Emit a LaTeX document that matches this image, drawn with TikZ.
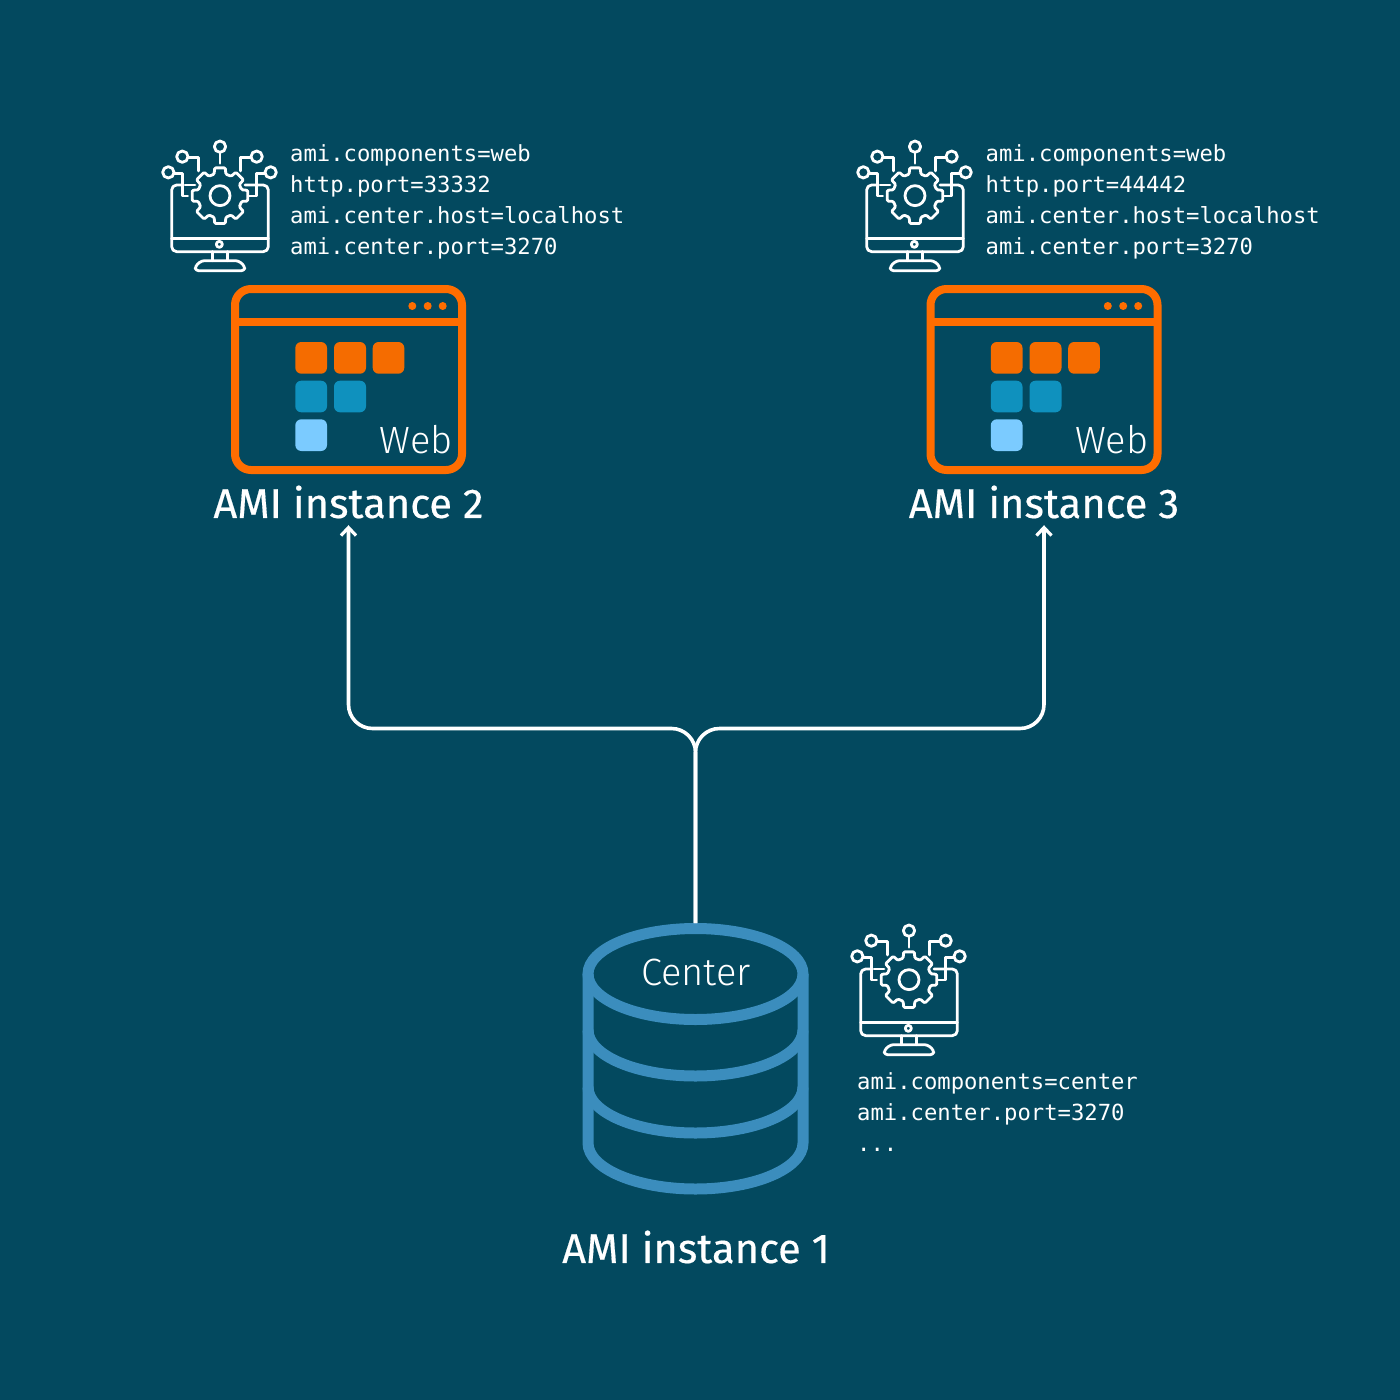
\documentclass[tikz,border=0pt]{standalone}
\usepackage{fontspec}
\usetikzlibrary{arrows.meta}
\setmainfont[FakeBold=0.4]{Fira Sans}
\newfontfamily\lightfont{Fira Sans Light}
\setmonofont{DejaVu Sans Mono}
\definecolor{bgc}{HTML}{03495F}
\definecolor{frameorange}{HTML}{FF6D00}
\definecolor{sqorange}{HTML}{F56C00}
\definecolor{sqblue}{HTML}{0F91BE}
\definecolor{sqlight}{HTML}{7BCBFF}
\definecolor{dbblue}{HTML}{3B8DBD}
\tikzset{
  iconline/.style={draw=white,line width=2.8pt,line cap=round,line join=round},
  winframe/.style={draw=frameorange,line width=8pt},
  sq/.style={rounded corners=6pt},
  dbline/.style={draw=dbblue,line width=11pt},
  conn/.style={draw=white,line width=3.6pt,rounded corners=24pt},
  cfg/.style={inner sep=0pt,anchor=north west,align=left,text=white,font=\fontsize{22.2}{31}\selectfont\ttfamily},
  biglabel/.style={inner sep=0pt,text=white,minimum height=46pt,font=\fontsize{41.6}{44}\selectfont},
  thinlabel/.style={inner sep=0pt,text=white,font=\fontsize{38}{40}\lightfont}
}
\newcommand{\amiicon}[2]{%
\begin{scope}[shift={(#1,#2)},x=0.3333pt,y=-0.3333pt]
  \draw[iconline,rounded corners=5pt] (92,165) -- (65,165) -- (65,365) -- (355,365) -- (355,165) -- (285,165);
  \draw[iconline] (105,165) -- (135,165);
  \draw[iconline] (65,325) -- (355,325);
  \draw[iconline] (208,343) circle[radius=9];
  \draw[iconline] (188,365) -- (188,392);
  \draw[iconline] (232,365) -- (232,392);
  \draw[iconline,rounded corners=3pt] (136,422) -- (136,408) -- (155,392) -- (265,392) -- (284,408) -- (284,422) -- cycle;
  % circuit traces
  \draw[iconline] (210,50) circle[radius=17];
  \draw[iconline] (210,67) -- (210,100);
  \draw[iconline] (97,80) circle[radius=17];
  \draw[iconline] (114,82) -- (145,82) -- (145,123);
  \draw[iconline] (320,80) circle[radius=17];
  \draw[iconline] (303,82) -- (272,82) -- (272,123);
  \draw[iconline] (55,127) circle[radius=17];
  \draw[iconline] (72,131) -- (97,131) -- (97,198) -- (113,198);
  \draw[iconline] (362,127) circle[radius=17];
  \draw[iconline] (345,131) -- (320,131) -- (320,198) -- (297,198);
  % gear
  \begin{scope}[shift={(210,197)}]
    \draw[iconline,rounded corners=1.2pt] (-15:67)
      \foreach \a in {0,45,...,315}{
        -- (\a-11:85) -- (\a+11:85) -- (\a+15:67) -- (\a+30:67)
      } -- cycle;
    \draw[iconline] (0,0) circle[radius=30];
  \end{scope}
\end{scope}}
\newcommand{\webwin}[1]{%
\begin{scope}[shift={(#1,0)}]
  \draw[winframe,rounded corners=16pt] (235,289) rectangle (462,470);
  \draw[winframe] (235,322) -- (462,322);
  \fill[frameorange] (412.3,306) circle[radius=4] (427.7,306) circle[radius=4] (442.7,306) circle[radius=4];
  \fill[sqorange,sq] (295.3,342) rectangle (327,373.7);
  \fill[sqorange,sq] (334,342) rectangle (366,373.7);
  \fill[sqorange,sq] (372.7,342) rectangle (404.3,373.7);
  \fill[sqblue,sq] (295.3,380.7) rectangle (327,412.3);
  \fill[sqblue,sq] (334,380.7) rectangle (366,412.3);
  \fill[sqlight,sq] (295.3,419.3) rectangle (327,451);
\end{scope}}
\begin{document}
\begin{tikzpicture}[x=1pt,y=-1pt]
  \useasboundingbox (0,0) rectangle (1400,1400);
  \fill[bgc] (0,0) rectangle (1400,1400);

  \amiicon{150}{130}
  \amiicon{845}{130}
  \amiicon{839}{914}
  \webwin{0}
  \webwin{695.5}

  \node[cfg] (cfg2) at (290,144) {ami.components=web\\http.port=33332\\ami.center.host=localhost\\ami.center.port=3270};
  \node[cfg] (cfg3) at (985.5,144) {ami.components=web\\http.port=44442\\ami.center.host=localhost\\ami.center.port=3270};
  \node[cfg] (cfg1) at (857,1072) {ami.components=center\\ami.center.port=3270\\...};

  \node[thinlabel,anchor=east] (web2) at (453,440) {Web};
  \node[thinlabel,anchor=east] (web3) at (1148.5,440) {Web};

  \node[biglabel] (inst2) at (348.5,502) {AMI instance 2};
  \node[biglabel] (inst3) at (1044,502) {AMI instance 3};
  \node[biglabel] (inst1) at (696,1247) {AMI instance 1};

  % database
  \draw[dbline] (588,974) -- (588,1143) arc[start angle=180,end angle=0,x radius=107.5,y radius=46] -- (803,974);
  \draw[dbline] (695.5,974) circle[x radius=107.5,y radius=45.5];
  \draw[dbline] (588,1030) arc[start angle=180,end angle=0,x radius=107.5,y radius=46];
  \draw[dbline] (588,1087) arc[start angle=180,end angle=0,x radius=107.5,y radius=46];
  \node[thinlabel] (center) at (696,972) {Center};
  \coordinate (dbtop) at (695.5,923);
  \coordinate (fork) at (695.5,728.5);

  % connectors
  \draw[conn,-{Straight Barb[length=8pt,width=15pt,line width=3.2pt]}] (dbtop) -- (fork) -- (inst2.south |- fork) -- (inst2.south);
  \draw[conn,-{Straight Barb[length=8pt,width=15pt,line width=3.2pt]}] (dbtop) -- (fork) -- (inst3.south |- fork) -- (inst3.south);
\end{tikzpicture}
\end{document}
